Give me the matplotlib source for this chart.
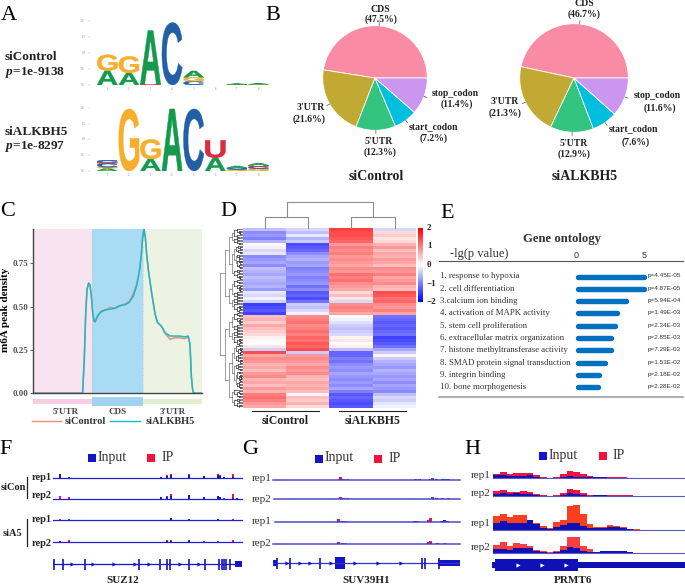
import matplotlib
matplotlib.use('Agg')
import matplotlib.pyplot as plt
import numpy as np
from matplotlib.colors import LinearSegmentedColormap
from matplotlib.font_manager import FontProperties
from matplotlib.patches import PathPatch, Rectangle
from matplotlib.textpath import TextPath
from matplotlib.transforms import Affine2D

plt.rcParams['font.family'] = ['Liberation Serif', 'DejaVu Serif']
plt.rcParams['mathtext.fontset'] = 'custom'
plt.rcParams['mathtext.it'] = 'Liberation Serif:italic:bold'
plt.rcParams['mathtext.rm'] = 'Liberation Serif:bold'

W, H = 685, 586

# panel A, letters from the bottom of each stack upwards (letter, bits)
logo_control = [
    [('A', .45), ('G', .50)],
    [('A', .38), ('G', .52)],
    [('U', .03), ('A', 1.68)],
    [('C', 1.96)],
    [('C', .12), ('G', .12), ('A', .2)],
    [],
    [('G', .02), ('A', .02)],
    [('G', .02), ('A', .03)],
]
logo_alkbh5 = [
    [('A', .09), ('G', .03), ('C', .12), ('U', .03), ('C', .07)],
    [('G', 1.96)],
    [('A', .38), ('G', .62)],
    [('A', 1.96)],
    [('C', 1.96)],
    [('A', .42), ('U', .55)],
    [('G', .05), ('C', .05), ('A', .06)],
    [('G', .07), ('C', .07), ('U', .04), ('A', .07)],
]
logo_colors = {'A': '#149A4C', 'C': '#235FA6', 'G': '#F7AE2B', 'U': '#DB2B3E'}
logo_ticks = ['0.0', '0.5', '1.0', '1.5', '2.0']

# panel B
pie_names = ['CDS', "3'UTR", "5'UTR", 'start_codon', 'stop_codon']
pie_control = [47.5, 21.6, 12.3, 7.2, 11.4]
pie_alkbh5 = [46.7, 21.3, 12.9, 7.6, 11.6]
pie_colors = ['#F98CA4', '#C2A934', '#33C47F', '#00BFDE', '#CB96F0']

# panel C
density_x = [0, .877, .907, .931, .955, .984, 1.008, 1.032, 1.055, 1.079, 1.103, 1.126, 1.162, 1.209,
             1.281, 1.364, 1.452, 1.541, 1.630, 1.707, 1.779, 1.838, 1.885, 1.921, 1.945, 1.968, 1.992,
             2.016, 2.051, 2.104, 2.164, 2.205, 2.283, 2.342, 2.431, 2.520, 2.609, 2.698, 2.757, 2.787,
             2.810, 2.834, 2.852, 3]
density_alkbh5 = [0, 0, .2, .45, .60, .635, .625, .56, .47, .42, .415, .435, .455, .47,
                  .48, .485, .49, .505, .51, .525, .56, .62, .70, .80, .90, .95, .90,
                  .80, .70, .58, .46, .41, .385, .35, .33, .33, .33, .325, .33, .28,
                  .10, .02, 0, 0]
density_control = [0, 0, .2, .45, .60, .635, .625, .56, .47, .415, .41, .43, .455, .475,
                   .48, .495, .49, .505, .515, .53, .575, .63, .70, .80, .90, .95, .90,
                   .80, .70, .58, .46, .41, .385, .345, .312, .32, .32, .315, .325, .28,
                   .10, .02, 0, 0]
region_names = ["5'UTR", 'CDS', "3'UTR"]
region_edges = [0, 1.044, 1.957, 3]
region_colors = ['#F8E3F0', '#A9DBF4', '#ECF3E2']
region_bar_colors = ['#F8CFE2', '#A0D4F2', '#E4EFD0']
density_ticks = [0, .25, .5, .75]

# panel D, rows from top to bottom
heat_a = [-.5, -.9, -.8, -1.0, -.6, .05, -.1, -.3, -.2, -.9, -.8, -.7, -.9, -.5, -.6, -.7, -.5, -.6, -.7, -.6,
          -.8, -.2, -.3, -.1, -.35, -1.5, -1.4, -1.3, -1.5, .5, .6, .4, .7, .5, .4, .3, .1, .05, 0, .2,
          -.4, 1.4, .7, .9, .8, .6, .7, .5, .8, .9, .6, .7, .5, .8, .6, 1.0, 1.1, 1.0, .8, .7]
heat_b = [-.3, -.5, -.2, -.6, -.4, -1.4, -1.3, -1.2, -.9, -.7, -.6, -.8, -.7, -1.0, -.9, -.8, -1.0, -.9, -.8, -1.1,
          -.9, -1.3, -1.2, -1.4, -1.1, -.4, -.5, -.3, -.1, .9, 1.0, 1.1, .9, 1.0, 1.1, 1.0, 1.2, 1.1, 1.3, 1.2,
          1.4, -.4, .8, .9, .8, .7, .9, .8, .9, .6, .5, .7, .6, .7, .5, .1, .5, .4, .6, .3]
heat_c = [1.5, 1.4, 1.4, 1.3, 1.2, .8, 1.0, .9, 1.0, .8, .9, .8, .7, .9, .8, 1.1, 1.0, 1.1, .9, .8,
          .7, .3, .5, .2, -.3, .9, 1.0, .9, .7, 0, -.1, -.25, -.4, -.5, -.4, -.3, .1, .2, 0, .15,
          -.5, -1.2, -1.2, -1.0, -1.1, -.9, -.8, -.9, -.7, -.8, -.9, -.8, -.9, -.7, -1.0, -1.3, -1.2, -1.3, -1.4, -1.3]
heat_d = [-.3, .3, .4, .2, .3, .6, .8, .5, .7, .6, .8, .7, .5, .9, .8, 1.0, .7, .8, .9, .6,
          .5, 1.4, 1.3, 1.1, 1.2, .9, .8, 1.0, .7, -1.1, -1.2, -1.3, -1.2, -1.3, -1.2, -1.1, -1.5, -1.4, -1.3, -1.1,
          -.7, -.4, .1, -.4, -.6, -.7, -.8, -.6, -.7, -.8, -.7, -.9, -.7, -.8, -.9, -.5, -.3, -.4, -.2, -.1]
heat_ticks = [2, 1, 0, -1, -2]
tree_split = [.47, .62, .35, .55, .7, .42, .5, .3]

# panel E
go_terms = ['1. response to hypoxia', '2. cell differentiation', '3.calcium ion binding',
            '4. activation of MAPK activity', '5. stem cell proliferation',
            '6. extracellular matrix organization', '7. histone methyltransferase activity',
            '8. SMAD protein signal transduction', '9. integrin binding', '10. bone morphogenesis']
go_values = [5.2, 5.2, 3.9, 3.2, 3.05, 2.8, 2.75, 2.35, 1.9, 1.85]
go_pvalues = ['p=4.45E-05', 'p=4.87E-05', 'p=5.94E-04', 'p=1.49E-03', 'p=2.34E-03',
              'p=2.85E-03', 'p=7.29E-03', 'p=1.53E-02', 'p=2.18E-02', 'p=2.28E-02']

# panel F
f_pos = [182, 207, 268, 425, 483, 502, 512, 566, 611, 652, 660, 672, 698, 710]
f_input = [[4, 1.5, .3, .3, 1.5, 2, 3, 3, 2.5, 3, 2, 1, 1.5, .5],
           [.5, .5, .3, .3, 2, 2.5, 3, 4.5, 2, 3, 2, .5, 1.5, 1],
           [.3, .3, 0, 0, 0, .5, 2, 1, .5, 1.5, .5, .3, .5, .2],
           [1, .3, 0, 0, .3, 1, 1, 2, .2, .5, .3, .2, .5, .2]]
f_ip = [[2, .5, 0, 0, .5, 3, 4, 4, 2, 4, 3, 1, 4, .5],
        [3, 2.5, 0, 0, .5, 3, 5, 4, 1.5, 2, 2.5, 1, 5, .5],
        [1, 1, 0, 0, 0, .5, 1, 1.5, .5, 1, .5, .3, 1.5, .2],
        [1.5, 2, 0, 0, .3, 2, 2.5, 1.5, 1, 1, .5, .2, 2.5, .2]]
f_exons = [162, 190, 256, 417, 481, 501, 511, 567, 615, 657, 664, 671, 678, 689]
f_arrows = [218, 281, 343, 405, 446, 540, 595]

# panel G
g_pos_top = [301, 312, 322, 528, 540, 572, 578, 590, 608, 616, 625]
g_pos_low = [295, 308, 316, 525, 533, 567, 572, 592, 605, 615, 622]
g_input = [[.7, .5, .5, 1, 1, 1, 1, 1, .7, .8, .7],
           [.3, .3, .3, 0, 0, .5, .7, 1, .3, .3, .3],
           [.7, 1, .5, .8, .7, 1.5, 1.5, .5, 1, 2, .7],
           [1, .5, .3, 0, 0, 1, 1, 1, .3, .3, 0]]
g_ip = [[3, 1, .7, 0, 0, 1, 2, .7, .5, .5, .5],
        [2, 1, 1, .5, 0, .5, 2, .5, 1, .5, 1],
        [3.5, 1, .7, 0, 0, 2, 4.5, .5, 1.5, 1, .5],
        [2, 1, 1, 0, 0, 2, 3, .7, .5, 1, .5]]
g_small_exons = [112, 150, 240, 545, 556, 597]
g_blocks = [(97, 112), (595, 660)]
g_cds = [(287, 315)]
g_arrows = [143, 180, 210, 275, 345, 413, 482]

# panel H, one value per bin along the gene
h_ip = [[4.5, 6, 4, 5, 5.5, 5, 3.5, 1.5, .5, 1, 4, 7, 6.5, 4.5, 2, 1, 1.5, .7, .7, .7, .5, .2, 0],
        [5, 6, 4, 4.5, 5, 4, 2, .7, .5, 1, 3.5, 7, 6, 3.5, 1, 1.5, 1.5, 1, 1, 1, .7, .2, 0],
        [14, 16, 13, 15, 15, 10, 7, 4, 2, 8, 10, 24, 25, 16, 6, 3.5, 3.5, 5, 4, 3, 1.5, .7, 0],
        [8, 11, 7, 10, 9.5, 7.5, 3.5, 2, .7, 2, 7, 16, 16, 7, 4, 1.5, 2.5, 2.5, 2.5, 2, 1, 0, 0]]
h_input = [[3, 3, 2, 2.5, 2.5, 3, 1.5, .5, .2, .5, 1, 2, 1.5, 1.5, 1.5, .7, 1.5, .5, .2, .2, .2, 0, 0],
           [2.5, 3, 2, 3, 2.5, 2, 1, .3, .3, .3, 1.5, 3, 2, 1.2, .5, 1.5, 1, .5, .5, .5, .3, 0, 0],
           [7, 9, 7, 7.5, 7.5, 10, 6, 2.5, 1, 3, 5, 7.5, 7, 4, 2.5, 2, 2.5, 3, 3, 2.5, 1, .5, 0],
           [4, 4.5, 3.5, 5.5, 5, 5, 2.5, 1, .3, 1, 3, 6, 5, 2.5, 1.5, 1, 2.5, 2.5, 2, 2, .7, 0, 0]]
h_ip_colors = ['#F0143C', '#F0143C', '#F8401E', '#F83E3E']
h_chevrons = [175, 246, 318]

rep_labels = ['rep1', 'rep2', 'rep1', 'rep2']
BLUE = '#1414C8'
RED = '#F0143C'
DARK = '#222222'

fig = plt.figure(figsize=(W / 100, H / 100), dpi=100, facecolor='white')


def px_ax(x0, y0, x1, y1):
    ax = fig.add_axes([x0 / W, 1 - y1 / H, (x1 - x0) / W, (y1 - y0) / H])
    ax.patch.set_alpha(0)
    return ax


def clean(ax):
    ax.set_xticks([])
    ax.set_yticks([])
    for s in ax.spines.values():
        s.set_visible(False)


# overlay in reference pixels, only for text and legend squares
ov = fig.add_axes([0, 0, 1, 1], zorder=10)
ov.set_xlim(0, W)
ov.set_ylim(H, 0)
ov.axis('off')
ov.patch.set_alpha(0)


def label(x, y, s, size=7, weight='bold', ha='center', color=DARK, **kw):
    ov.text(x, y, s, fontsize=size, fontweight=weight, ha=ha, va='center', color=color, **kw)


for s, x, y in [('A', 9, 16), ('B', 273, 16), ('C', 8, 212), ('D', 228, 212),
                ('E', 447, 213), ('F', 6, 450), ('G', 250, 450), ('H', 472, 450)]:
    label(x, y, s, size=16, weight='normal', color='black')


# ---- A ----
def draw_logo(x0, y_top, y_base, stacks):
    ax = px_ax(x0, y_top, x0 + 21.6 * len(stacks), y_base)
    ax.set_xlim(0, len(stacks))
    ax.set_ylim(0, 2)
    clean(ax)
    fp = FontProperties(family='Liberation Sans', weight='bold')
    for i, stack in enumerate(stacks):
        bottom = 0
        for letter, h in stack:
            tp = TextPath((0, 0), letter, size=1, prop=fp)
            bb = tp.get_extents()
            tr = (Affine2D().translate(-bb.x0, -bb.y0).scale(.94 / bb.width, h / bb.height)
                  .translate(i + .03, bottom))
            ax.add_patch(PathPatch(tp, transform=tr + ax.transData, fc=logo_colors[letter],
                                   ec=logo_colors[letter], lw=.3))
            bottom += h
    for k, t in enumerate(logo_ticks):
        ax.text(-.62, k * .5, t, fontsize=2, color='#777777', ha='center', va='center', clip_on=False)
        ax.plot([-.35, -.3], [k * .5, k * .5], color='#999999', lw=.3, clip_on=False)
    for i in range(len(stacks)):
        ax.text(i + .5, -.14, str(i + 1), fontsize=2, color='#777777', ha='center', va='center', clip_on=False)


draw_logo(96.5, 21.3, 85, logo_control)
draw_logo(96.5, 107.7, 171, logo_alkbh5)
label(31, 57, 'siControl', size=9.5)
label(35, 72, r'$\mathit{p}$=1e-9138', size=9.5)
label(36, 132, 'siALKBH5', size=9.5)
label(35, 147, r'$\mathit{p}$=1e-8297', size=9.5)


# ---- B ----
def draw_pie(cx, cy, r, values):
    ax = px_ax(cx - r, cy - r, cx + r, cy + r)
    ax.pie(values, colors=pie_colors, startangle=0, counterclock=True, radius=1,
           wedgeprops={'edgecolor': 'white', 'linewidth': .6})
    ax.set_xlim(-1, 1)
    ax.set_ylim(-1, 1)
    # short leader ticks
    ang = 0
    for v in values:
        mid = np.deg2rad(ang + v * 1.8)
        ang += v * 3.6
        ax.plot([np.cos(mid), 1.06 * np.cos(mid)], [np.sin(mid), 1.06 * np.sin(mid)],
                color='#555555', lw=.5, clip_on=False)


draw_pie(375, 78, 52.3, pie_control)
draw_pie(574, 78, 54.3, pie_alkbh5)

left_pos = [(380, 9, 381, 19), (311, 107, 309, 119), (379, 141, 380, 152), (434, 127, 434, 138), (455, 93, 457, 104)]
right_pos = [(584, 4, 584, 14), (505, 102, 505, 113), (574, 143, 574, 154), (634, 129, 636, 142), (657, 96, 660, 108)]
for vals, poss in [(pie_control, left_pos), (pie_alkbh5, right_pos)]:
    for name, v, p in zip(pie_names, vals, poss):
        label(p[0], p[1], name, size=7)
        label(p[2], p[3], '(%.1f%%)' % v, size=7)
label(376, 176, 'siControl', size=10)
label(585, 176, 'siALKBH5', size=10)

# ---- C ----
ax = px_ax(33.3, 228.5, 202, 393.3)
ax.set_xlim(0, 3)
ax.set_ylim(0, .95)
for i in range(3):
    ax.axvspan(region_edges[i], region_edges[i + 1], color=region_colors[i], lw=0)
for e in region_edges[1:3]:
    ax.axvline(e, color='#B8C8D8', lw=.6, ls=':')
ax.plot(density_x, density_control, color='#F5897B', lw=1.1)
ax.plot(density_x, density_alkbh5, color='#17BCC4', lw=1.1)
ax.set_yticks(density_ticks)
ax.set_yticklabels(['%.2f' % t for t in density_ticks], fontsize=6.5, fontweight='bold', color='#555555')
ax.tick_params(axis='y', length=2, width=.6, pad=1.5, color='#444444')
ax.set_xticks([])
for s in ['top', 'right']:
    ax.spines[s].set_visible(False)
for s in ['left', 'bottom']:
    ax.spines[s].set_linewidth(1)
    ax.spines[s].set_color('#444444')
label(5.5, 310, 'm6A peak density', size=8, rotation=90, color='black')
bar_ax = px_ax(33.3, 396, 202, 407)
bar_ax.set_xlim(0, 3)
bar_ax.set_ylim(0, 1)
clean(bar_ax)
for i in range(3):
    bar_ax.axvspan(region_edges[i], region_edges[i + 1], ymin=.1 if i == 1 else .27, ymax=.95 if i == 1 else .73,
                   color=region_bar_colors[i], lw=0)
for name, x in zip(region_names, [66, 117.5, 173]):
    label(x, 411.5, name, size=6.5, color='#444444')
ov.plot([32, 61], [420.5, 420.5], color='#F5897B', lw=1)
ov.plot([110, 140], [420.5, 420.5], color='#17BCC4', lw=1)
label(65, 421, 'siControl', size=7.5, ha='left', color='#333333')
label(146, 421, 'siALKBH5', size=7.5, ha='left', color='#333333')

# ---- D ----
heat = np.array([heat_a, heat_b, heat_c, heat_d]).T
cmap = LinearSegmentedColormap.from_list('bwr2', ['#0000FF', '#FFFFFF', '#FF0000'])
ax = px_ax(243.3, 228.3, 416.3, 408.3)
ax.imshow(heat, aspect='auto', cmap=cmap, vmin=-2, vmax=2, interpolation='nearest')
clean(ax)

top = px_ax(243.3, 201, 416.3, 228.3)
top.set_xlim(0, 4)
top.set_ylim(0, 1)
clean(top)
dend_color = '#8C8C8C'
top.plot([.5, .5, 1.5, 1.5], [0, .41, .41, 0], color=dend_color, lw=.8, clip_on=False)
top.plot([2.5, 2.5, 3.5, 3.5], [0, .41, .41, 0], color=dend_color, lw=.8, clip_on=False)
top.plot([1, 1, 3, 3], [.41, .96, .96, .41], color=dend_color, lw=.8, clip_on=False)

n_leaves = 120
left = px_ax(220, 228.3, 243.3, 408.3)
left.set_xlim(0, 1)
left.set_ylim(n_leaves, 0)
clean(left)


def draw_tree(lo, hi, x, depth):
    if hi - lo == 1:
        left.plot([x, 1], [lo + .5, lo + .5], color='#222222', lw=.4)
        return lo + .5
    f = tree_split[depth % len(tree_split)]
    mid = min(hi - 1, lo + max(1, int((hi - lo) * f)))
    nx = x + (1 - x) * (.2 if hi - lo > 8 else .3)
    y0 = draw_tree(lo, mid, nx, depth + 1)
    y1 = draw_tree(mid, hi, nx, depth + 2)
    c = '#777777' if hi - lo > 8 else '#333333'
    left.plot([x, x], [y0, y1], color=c, lw=.5)
    left.plot([x, nx], [y0, y0], color=c, lw=.5)
    left.plot([x, nx], [y1, y1], color=c, lw=.5)
    return (y0 + y1) / 2


draw_tree(0, n_leaves, .02, 0)

cb = px_ax(418.3, 228.3, 423, 302.3)
cb.imshow(np.linspace(2, -2, 128).reshape(-1, 1), aspect='auto', cmap=cmap, vmin=-2, vmax=2)
clean(cb)
for t, y in zip(heat_ticks, [228.5, 246.5, 265, 283.5, 302]):
    label(427, y, str(t).replace('-', '\u2212') if t < 0 else str(t), size=6.5, weight='bold', ha='left')
ov.plot([252, 319], [411, 411], color='#222222', lw=.8)
ov.plot([339, 406], [411, 411], color='#222222', lw=.8)
label(285, 421, 'siControl', size=8.5)
label(373, 421, 'siALKBH5', size=8.5)

# ---- E ----
label(562, 239, 'Gene ontology', size=9.2, color='#333333')
label(450, 254, '-lg(p value)', size=9, weight='normal', ha='left', color='#333333')
ov.plot([439, 683], [261, 261], color='#555555', lw=.8)
ov.plot([439, 683], [397, 397], color='#999999', lw=1.1)
go_ax = px_ax(576, 262, 644, 396)
go_ax.set_xlim(0, 5)
go_ax.set_ylim(9.72, -1.18)
clean(go_ax)
for i, v in enumerate(go_values):
    go_ax.plot([.13, v - .2], [i, i], color='#0070C0', lw=3.9, solid_capstyle='round', clip_on=False)
for i, (term, p) in enumerate(zip(go_terms, go_pvalues)):
    y = 276.5 + i * 12.3
    label(440, y, term, size=6.3, weight='normal', ha='left', color='#333333')
    ov.text(648, y - .5, p, fontsize=4.6, family='Liberation Sans', color='#333333', va='center', ha='left')
ov.text(576, 255, '0', fontsize=6.5, family='Liberation Sans', color='#333333', va='center', ha='center')
ov.text(644, 255, '5', fontsize=6.5, family='Liberation Sans', color='#333333', va='center', ha='center')


# ---- F G H ----
def legend_row(x_blue, x_input, x_red, x_ip, y, size):
    ov.add_patch(Rectangle((x_blue - 4, y - 4), 8, 8, color=BLUE, lw=0))
    ov.add_patch(Rectangle((x_red - 4, y - 4), 8, 8, color=RED, lw=0))
    label(x_input, y - .5, 'Input', size=size, weight='normal', ha='left', color='#333333')
    label(x_ip, y - .5, 'IP', size=size, weight='normal', ha='left', color='#333333')


def track(x0, x1, y, height, xlim, line_color, line_w):
    ax = px_ax(x0, y - height, x1, y)
    ax.set_xlim(*xlim)
    ax.set_ylim(0, height)
    clean(ax)
    ax.plot(xlim, [0, 0], color=line_color, lw=line_w, clip_on=False, zorder=3)
    return ax


def gene_axes(x0, x1, y, xlim):
    ax = px_ax(x0, y - 7, x1, y + 7)
    ax.set_xlim(*xlim)
    ax.set_ylim(-7, 7)
    clean(ax)
    return ax


def chevrons(ax, xs, color, size=2):
    ax.plot(xs, [0] * len(xs), ls='', marker='>', ms=size, color=color, mew=0, clip_on=False)


# F
legend_row(92, 98, 151, 162, 458, 10)
for k, (y, lab_y) in enumerate(zip([478, 499, 520, 542], [478, 496, 520, 543])):
    t = track(53, 242, y, 14, (160, 725), '#2020D0', .9)
    t.bar(f_pos, f_ip[k], width=6, color=RED, lw=0)
    t.bar(f_pos, f_input[k], width=6, color=BLUE, lw=0)
    label(52, lab_y, rep_labels[k], size=7.5, ha='right', color='#222222')
label(13, 488, 'siCon', size=7.5, color='#222222')
label(12, 533, 'siA5', size=7.5, color='#222222')
ov.plot([27, 27], [477, 498], color='#222222', lw=.9)
ov.plot([27, 27], [519, 546], color='#222222', lw=.9)
g = gene_axes(53, 242, 564, (160, 725))
g.plot([160, 725], [0, 0], color=BLUE, lw=.9)
g.vlines(f_exons, -5.5, 5.5, color=BLUE, lw=1.2)
g.add_patch(Rectangle((705, -3.2), 20, 6.4, color=BLUE, lw=0))
chevrons(g, f_arrows, BLUE, 3)
label(123, 580.5, 'SUZ12', size=8)

# G
legend_row(319, 325, 378, 389, 458.5, 10)
g_starts = [273, 274, 275, 273]
for k, y in enumerate([480, 499, 522, 544]):
    t = track(g_starts[k], 460, y, 12, (100 + (g_starts[k] - 273) * 3, 660), '#4A4AC8', 1.1)
    pos = g_pos_top if k < 2 else g_pos_low
    t.bar(pos, g_ip[k], width=9, color=RED, lw=0)
    t.bar(pos, g_input[k], width=9, color=BLUE, lw=0)
for y, lab in zip([478.5, 500, 522, 544], rep_labels):
    label(271.5, y, lab, size=8, weight='normal', ha='right', color='#333333')
g = gene_axes(273, 460, 563, (100, 660))
g.plot([100, 660], [0, 0], color='#3333CC', lw=.9)
g.vlines(g_small_exons, -5.5, 5.5, color=BLUE, lw=1.2)
for a, b in g_blocks:
    g.add_patch(Rectangle((a, -3.3), b - a, 6.6, color=BLUE, lw=0))
for a, b in g_cds:
    g.add_patch(Rectangle((a, -5.8), b - a, 11.6, color=BLUE, lw=0))
chevrons(g, g_arrows, BLUE, 3)
label(366, 580.5, 'SUV39H1', size=8)

# H
legend_row(543, 549, 603, 613, 456, 10)
bins = np.arange(len(h_ip[0]) + 1)
for k, (y, lab_y) in enumerate(zip([478, 496, 530, 553], [476, 494, 524, 547])):
    t = track(493.3, 684, y, 28, (0, 28.6), '#5A5AC8', .8)
    t.stairs(h_ip[k], bins, fill=True, color=h_ip_colors[k], lw=0)
    t.stairs(h_input[k], bins, fill=True, color='#1010B8', lw=0)
    label(491, lab_y, rep_labels[k], size=8, weight='normal', ha='right', color='#333333')
g = gene_axes(492, 685, 565, (97, 675))
g.add_patch(Rectangle((97, -3.3), 578, 6.6, color='#1010B8', lw=0))
g.add_patch(Rectangle((105, -5.8), 250, 11.6, color='#1010B8', lw=0))
chevrons(g, h_chevrons, 'white', 3)
label(573, 580.5, 'PRMT6', size=8)

fig.savefig('out.png', dpi=100)
